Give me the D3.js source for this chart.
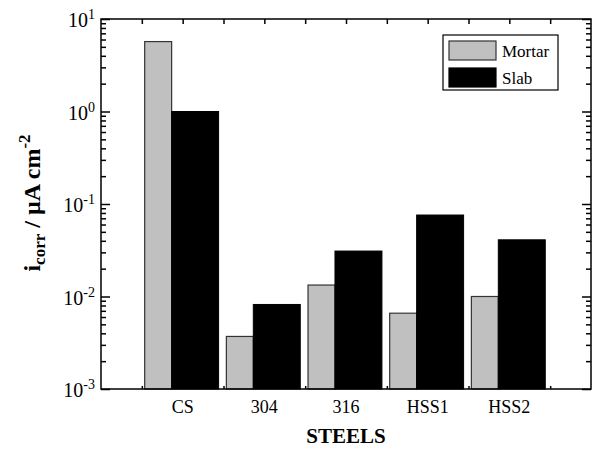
<!DOCTYPE html>
<html>
<head>
<meta charset="utf-8">
<script src="https://cdn.jsdelivr.net/npm/d3@7"></script>
<style>
  html, body { margin: 0; padding: 0; background: #fff; }
</style>
</head>
<body>
<svg id="chart" width="592" height="449"></svg>
<script>
// Corrosion current density per steel type, in µA/cm²
const steels = ["CS", "304", "316", "HSS1", "HSS2"];
const mortar = [5.7, 0.0037, 0.0133, 0.0066, 0.0100];
const slab   = [1.0, 0.0082, 0.031, 0.076, 0.041];
const seriesNames = ["Mortar", "Slab"];
const yTickExponents = [-3, -2, -1, 0, 1];

const FONT = "Liberation Serif";
const svg = d3.select("#chart");
const m = { left: 101, right: 591, top: 19, bottom: 389 };

const x = d3.scaleLinear().domain([0, 6]).range([m.left, m.right]);
const y = d3.scaleLog().domain([1e-3, 10]).range([m.bottom, m.top]);

// bar geometry in category units: grey bar on the left, black bar on its right
const start = 0.035, mortarW = 0.33, slabW = 0.575;

const g = svg.append("g");
g.selectAll("rect.mortar").data(mortar).join("rect")
  .attr("class", "mortar")
  .attr("x", (d, i) => x(i + 0.5 + start))
  .attr("y", d => y(d))
  .attr("width", x(mortarW) - x(0))
  .attr("height", d => y(1e-3) - y(d))
  .attr("fill", "#c0c0c0")
  .attr("stroke", "#333")
  .attr("stroke-width", 1.2);
g.selectAll("rect.slab").data(slab).join("rect")
  .attr("class", "slab")
  .attr("x", (d, i) => x(i + 0.5 + start + mortarW))
  .attr("y", d => y(d))
  .attr("width", x(slabW) - x(0))
  .attr("height", d => y(1e-3) - y(d))
  .attr("fill", "#000")
  .attr("stroke", "#000")
  .attr("stroke-width", 1);

// log axis ticks: majors at decades, minors at 2..9 × decade
const majors = yTickExponents.map(e => Math.pow(10, e));
const minors = [];
yTickExponents.slice(0, -1).forEach(e => {
  for (let k = 2; k <= 9; k++) minors.push(k * Math.pow(10, e));
});

function clean(sel) {
  sel.select(".domain").remove();
  sel.selectAll(".tick text").remove();
  sel.selectAll(".tick line").attr("stroke", "#000").attr("stroke-width", 1.5);
}
// inward ticks on left and right frame edges
svg.append("g").attr("transform", `translate(${m.left},0)`)
  .call(d3.axisLeft(y).tickValues(majors).tickSize(-9)).call(clean);
svg.append("g").attr("transform", `translate(${m.left},0)`)
  .call(d3.axisLeft(y).tickValues(minors).tickSize(-5)).call(clean);
svg.append("g").attr("transform", `translate(${m.right},0)`)
  .call(d3.axisRight(y).tickValues(majors).tickSize(-9)).call(clean);
svg.append("g").attr("transform", `translate(${m.right},0)`)
  .call(d3.axisRight(y).tickValues(minors).tickSize(-5)).call(clean);
// top ticks every half category, bottom small ticks between categories
svg.append("g").attr("transform", `translate(0,${m.top})`)
  .call(d3.axisTop(x).tickValues(d3.range(0.5, 6, 0.5)).tickSize(-5)).call(clean);
svg.append("g").attr("transform", `translate(0,${m.bottom})`)
  .call(d3.axisBottom(x).tickValues(d3.range(0.5, 6, 1)).tickSize(-3)).call(clean);

// plot frame
svg.append("rect")
  .attr("x", m.left).attr("y", m.top)
  .attr("width", m.right - m.left).attr("height", m.bottom - m.top)
  .attr("fill", "none").attr("stroke", "#000").attr("stroke-width", 1.5);

// y tick labels 10^n
yTickExponents.forEach(e => {
  const t = svg.append("text")
    .attr("x", 95).attr("y", y(Math.pow(10, e)) + 8)
    .attr("text-anchor", "end")
    .attr("font-family", FONT)
    .attr("font-size", 20);
  t.append("tspan").text("10");
  t.append("tspan").attr("dy", -8).attr("font-size", 14).text(String(e));
});

// category labels
svg.selectAll("text.cat").data(steels).join("text")
  .attr("class", "cat")
  .attr("x", (d, i) => x(i + 1)).attr("y", 413)
  .attr("text-anchor", "middle")
  .attr("font-family", FONT)
  .attr("font-size", 18)
  .text(d => d);

// axis titles
svg.append("text")
  .attr("x", (m.left + m.right) / 2).attr("y", 443)
  .attr("text-anchor", "middle")
  .attr("font-family", FONT)
  .attr("font-size", 21).attr("font-weight", "bold")
  .text("STEELS");

const yl = svg.append("text")
  .attr("transform", "translate(40,203) rotate(-90)")
  .attr("text-anchor", "middle")
  .attr("font-family", FONT)
  .attr("font-size", 24).attr("font-weight", "bold");
yl.append("tspan").text("i");
yl.append("tspan").attr("dy", 5).attr("font-size", 17).text("corr");
yl.append("tspan").attr("dy", -5).text(" / µA cm");
yl.append("tspan").attr("dy", -10).attr("font-size", 17).text("-2");

// legend
const lg = svg.append("g");
lg.append("rect").attr("x", 443).attr("y", 35).attr("width", 115).attr("height", 55)
  .attr("fill", "#fff").attr("stroke", "#000").attr("stroke-width", 1.2);
const legendFill = ["#c0c0c0", "#000"];
seriesNames.forEach((n, i) => {
  const yy = 41 + i * 27;
  lg.append("rect").attr("x", 449).attr("y", yy).attr("width", 47).attr("height", 19)
    .attr("fill", legendFill[i]).attr("stroke", i === 0 ? "#333" : "#000").attr("stroke-width", 1.2);
  lg.append("text").attr("x", 502).attr("y", yy + 16)
    .attr("font-family", FONT)
    .attr("font-size", 17).text(n);
});
</script>
</body>
</html>
